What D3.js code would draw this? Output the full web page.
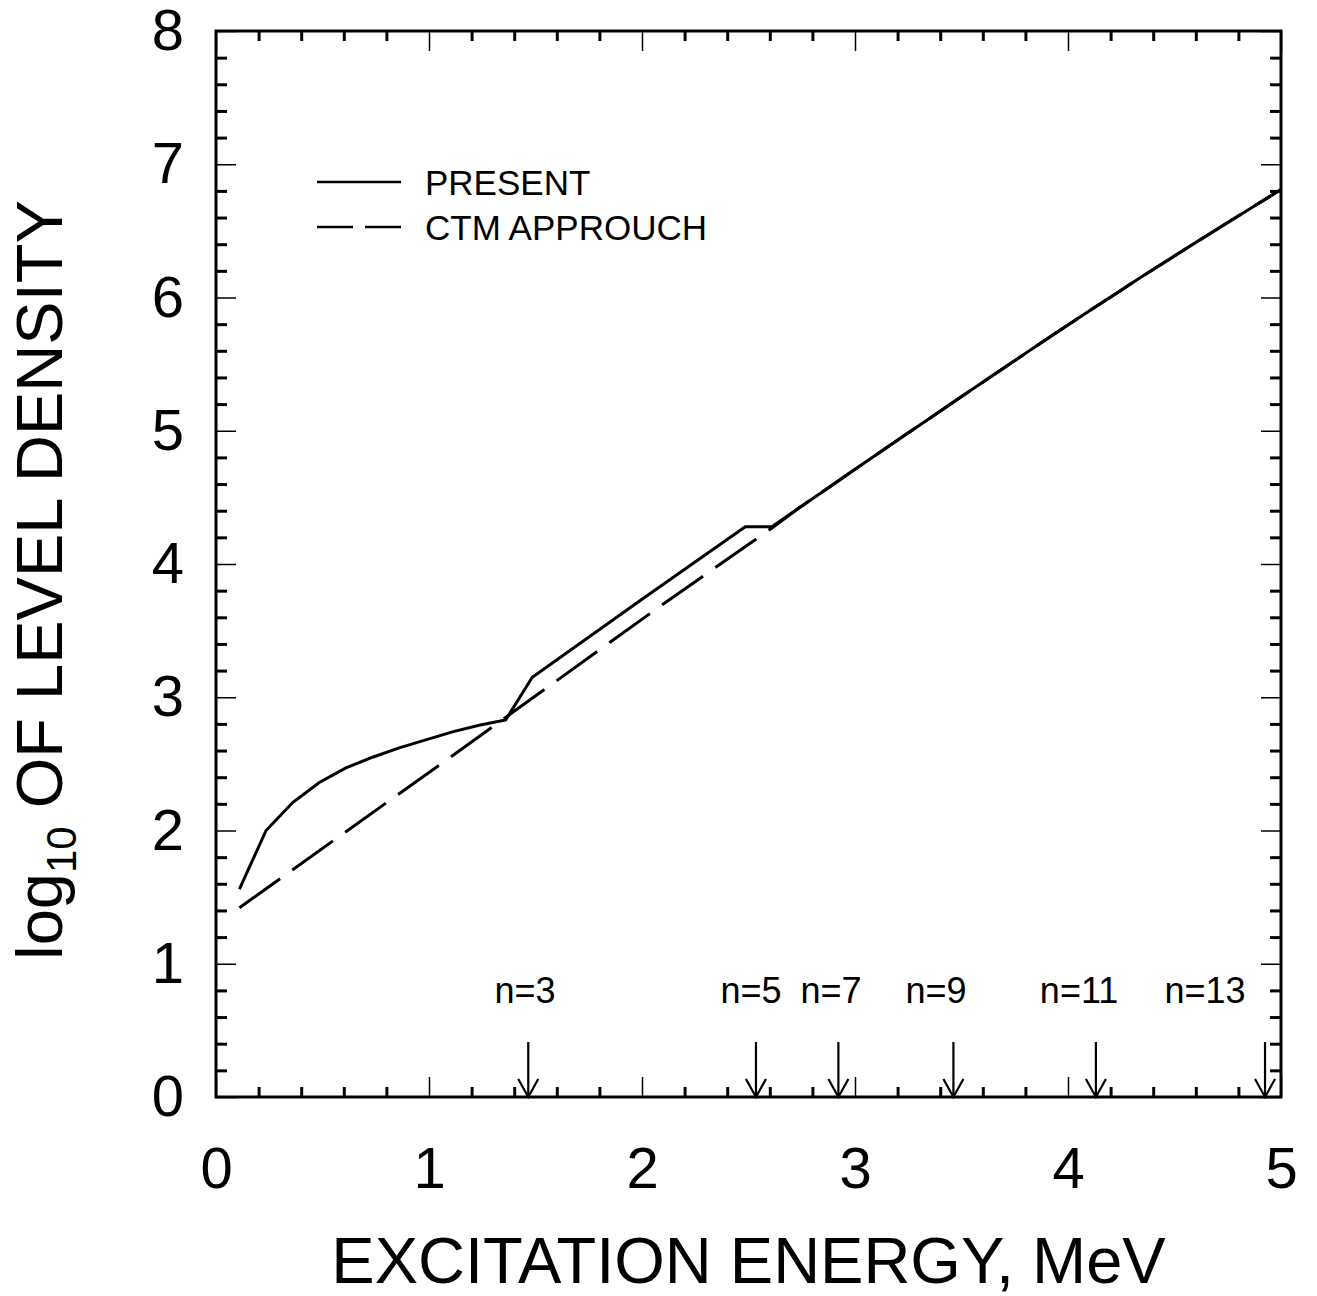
<!DOCTYPE html>
<html>
<head>
<meta charset="utf-8">
<script src="https://cdn.jsdelivr.net/npm/d3@7"></script>
<style>
  html, body { margin: 0; padding: 0; background: #fff; }
  svg { display: block; font-family: "Liberation Sans", Arial, Helvetica, sans-serif; }
</style>
</head>
<body>
<svg id="chart" width="1317" height="1296"></svg>
<script>
// Level density: present calculation (solid) vs. CTM approach (dashed)
const presentE   = [0.11, 0.235, 0.36, 0.485, 0.61, 0.735, 0.86, 0.985, 1.11, 1.235, 1.36, 1.485,
                    2.0, 2.485, 2.61, 2.735, 2.86, 2.985, 3.11, 3.235, 3.36, 3.485, 3.61, 3.735,
                    3.86, 3.985, 4.11, 4.235, 4.36, 4.485, 4.61, 4.735, 4.86, 5.0];
const presentLog = [1.56, 2.00, 2.21, 2.36, 2.47, 2.55, 2.62, 2.68, 2.74, 2.79, 2.83, 3.15,
                    3.735, 4.28, 4.28, 4.418, 4.556, 4.694, 4.831, 4.968, 5.104, 5.24, 5.375, 5.51,
                    5.645, 5.778, 5.91, 6.04, 6.17, 6.297, 6.423, 6.548, 6.672, 6.81];

const ctmE   = [0.11, 0.6, 1.1, 1.6, 2.1, 2.61, 2.735, 2.86, 2.985, 3.11, 3.235, 3.36, 3.485, 3.61,
                3.735, 3.86, 3.985, 4.11, 4.235, 4.36, 4.485, 4.61, 4.735, 4.86, 5.0];
const ctmLog = [1.42, 1.98, 2.55, 3.125, 3.70, 4.27, 4.418, 4.556, 4.694, 4.831, 4.968, 5.104, 5.24, 5.375,
                5.51, 5.645, 5.778, 5.91, 6.04, 6.17, 6.297, 6.423, 6.548, 6.672, 6.81];

// Arrow markers for the n values along the energy axis
const nLabels  = ["n=3", "n=5", "n=7", "n=9", "n=11", "n=13"];
const nArrowE  = [1.466, 2.535, 2.922, 3.462, 4.131, 4.925];
const nLabelE  = [1.451, 2.512, 2.887, 3.380, 4.052, 4.643];

const xMajorTicks = [0, 1, 2, 3, 4, 5];
const yMajorTicks = [0, 1, 2, 3, 4, 5, 6, 7, 8];

const legendLabels = ["PRESENT", "CTM APPROUCH"];
const legendDash   = [null, "36,12"];

const svg = d3.select("#chart");
const plotLeft = 216, plotRight = 1281, plotTop = 31, plotBottom = 1097;

const x = d3.scaleLinear().domain([0, 5]).range([plotLeft, plotRight]);
const y = d3.scaleLinear().domain([0, 8]).range([plotBottom, plotTop]);

const xMinor = d3.range(0, 5.0001, 0.2).filter(v => Math.abs(v - Math.round(v)) > 1e-6);
const yMinor = d3.range(0, 8.0001, 0.2).filter(v => Math.abs(v - Math.round(v)) > 1e-6);

function styleAxis(g, width) {
  g.select(".domain").remove();
  g.selectAll(".tick line").attr("stroke", "#000").attr("stroke-width", width);
}

// minor ticks on all four sides (short, heavy)
svg.append("g").attr("transform", `translate(0,${plotBottom})`)
  .call(d3.axisBottom(x).tickValues(xMinor).tickSize(-10).tickFormat(""))
  .call(g => styleAxis(g, 3));
svg.append("g").attr("transform", `translate(0,${plotTop})`)
  .call(d3.axisTop(x).tickValues(xMinor).tickSize(-10).tickFormat(""))
  .call(g => styleAxis(g, 3));
svg.append("g").attr("transform", `translate(${plotLeft},0)`)
  .call(d3.axisLeft(y).tickValues(yMinor).tickSize(-11).tickFormat(""))
  .call(g => styleAxis(g, 3));
svg.append("g").attr("transform", `translate(${plotRight},0)`)
  .call(d3.axisRight(y).tickValues(yMinor).tickSize(-11).tickFormat(""))
  .call(g => styleAxis(g, 3));

// major ticks (long, thin) with labels on bottom and left
const xAxis = svg.append("g").attr("transform", `translate(0,${plotBottom})`)
  .call(d3.axisBottom(x).tickValues(xMajorTicks).tickSize(-20).tickPadding(50).tickFormat(d3.format("d")))
  .call(g => styleAxis(g, 1.5));
xAxis.selectAll("text").attr("font-size", 58).attr("fill", "#000")
  .attr("font-family", "Liberation Sans, Arial, sans-serif");

svg.append("g").attr("transform", `translate(0,${plotTop})`)
  .call(d3.axisTop(x).tickValues(xMajorTicks).tickSize(-20).tickFormat(""))
  .call(g => styleAxis(g, 1.5));

const yAxis = svg.append("g").attr("transform", `translate(${plotLeft},0)`)
  .call(d3.axisLeft(y).tickValues(yMajorTicks).tickSize(-20).tickPadding(32).tickFormat(d3.format("d")))
  .call(g => styleAxis(g, 1.5));
yAxis.selectAll("text").attr("font-size", 58).attr("fill", "#000")
  .attr("font-family", "Liberation Sans, Arial, sans-serif");

svg.append("g").attr("transform", `translate(${plotRight},0)`)
  .call(d3.axisRight(y).tickValues(yMajorTicks).tickSize(-20).tickFormat(""))
  .call(g => styleAxis(g, 1.5));

// frame
svg.append("rect")
  .attr("x", plotLeft).attr("y", plotTop)
  .attr("width", plotRight - plotLeft).attr("height", plotBottom - plotTop)
  .attr("fill", "none").attr("stroke", "#000").attr("stroke-width", 3);

const line = d3.line().x(d => x(d[0])).y(d => y(d[1]));

svg.append("path")
  .datum(d3.zip(ctmE, ctmLog))
  .attr("d", line)
  .attr("fill", "none").attr("stroke", "#000").attr("stroke-width", 3)
  .attr("stroke-dasharray", "50,15");

svg.append("path")
  .datum(d3.zip(presentE, presentLog))
  .attr("d", line)
  .attr("fill", "none").attr("stroke", "#000").attr("stroke-width", 3)
  .attr("stroke-linejoin", "miter");

// n arrows
const arrowTop = 1042;
const arrows = svg.append("g");
nArrowE.forEach((e, i) => {
  const ax = x(e);
  arrows.append("line")
    .attr("x1", ax).attr("x2", ax).attr("y1", arrowTop).attr("y2", plotBottom)
    .attr("stroke", "#000").attr("stroke-width", 2.2);
  arrows.append("path")
    .attr("d", `M${ax - 10},${plotBottom - 18} L${ax},${plotBottom} L${ax + 10},${plotBottom - 18}`)
    .attr("fill", "none").attr("stroke", "#000").attr("stroke-width", 2.2);
  arrows.append("text")
    .attr("x", x(nLabelE[i])).attr("y", 1003)
    .attr("text-anchor", "middle").attr("font-size", 36)
    .text(nLabels[i]);
});

// legend
const legend = svg.append("g");
legendLabels.forEach((lab, i) => {
  const ly = 182 + i * 45;
  legend.append("line")
    .attr("x1", 317).attr("x2", 401).attr("y1", ly).attr("y2", ly)
    .attr("stroke", "#000").attr("stroke-width", 2.5)
    .attr("stroke-dasharray", legendDash[i]);
  legend.append("text")
    .attr("x", 425).attr("y", ly + 12.5)
    .attr("font-size", 35)
    .text(lab);
});

// axis titles
svg.append("text")
  .attr("x", (plotLeft + plotRight) / 2).attr("y", 1283)
  .attr("text-anchor", "middle").attr("font-size", 65)
  .text("EXCITATION ENERGY, MeV");

const yTitle = svg.append("text")
  .attr("transform", `translate(62,580) rotate(-90)`)
  .attr("text-anchor", "middle").attr("font-size", 65);
yTitle.append("tspan").text("log");
yTitle.append("tspan").attr("font-size", 42).attr("dy", 14).text("10");
yTitle.append("tspan").attr("dy", -14).text(" OF LEVEL DENSITY");
</script>
</body>
</html>
